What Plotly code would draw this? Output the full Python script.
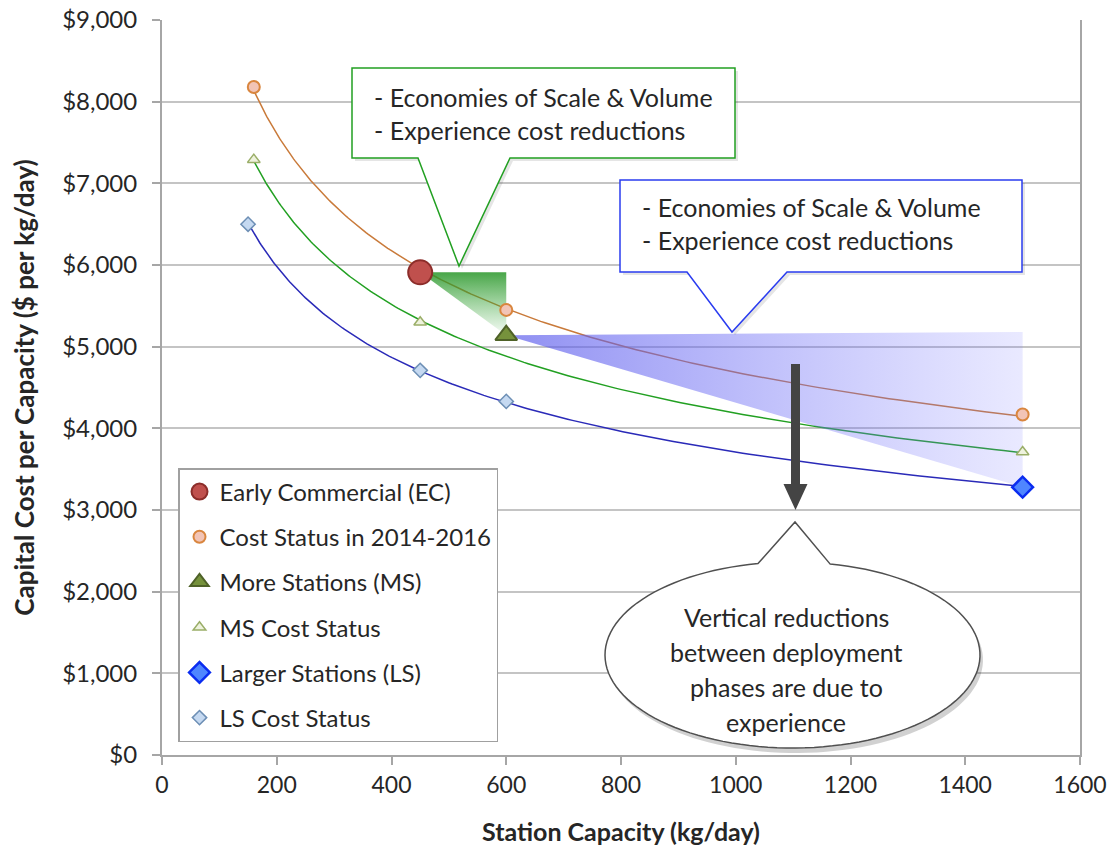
import numpy as np
import plotly.graph_objects as go

# ---------------- data ----------------
cost_status_x = [160, 600, 1500]
cost_status_y = [8180, 5450, 4170]
ec_x = [450]
ec_y = [5910]
ms_cost_x = [160, 450, 1500]
ms_cost_y = [7290, 5300, 3710]
ms_x = [600]
ms_y = [5140]
ls_cost_x = [150, 450, 600]
ls_cost_y = [6500, 4710, 4330]
ls_x = [1500]
ls_y = [3280]

x_ticks = list(range(0, 1601, 200))
y_ticks = list(range(0, 9001, 1000))

legend_names = ["Early Commercial (EC)", "Cost Status in 2014-2016", "More Stations (MS)",
                "MS Cost Status", "Larger Stations (LS)", "LS Cost Status"]

callout_lines = ["- Economies of Scale & Volume", "- Experience cost reductions"]
bubble_lines = ["Vertical reductions", "between deployment", "phases are due to", "experience"]

X_MAX, Y_MAX = 1600, 9000

# ---------------- helpers ----------------
FONT = "Lato"
TXT = "#262626"

# plot area in pixels (for placing decorative callouts)
L, R, T, B = 162, 1080, 20, 755


def dx(px):
    return (px - L) / (R - L) * X_MAX


def dy(py):
    return (B - py) / (B - T) * Y_MAX


def path(points, ox=0, oy=0):
    s = ""
    for i, (px, py) in enumerate(points):
        s += ("M" if i == 0 else "L") + f"{dx(px + ox):.3f},{dy(py + oy):.3f} "
    return s + "Z"


def power_trend(xs, ys):
    b, loga = np.polyfit(np.log(xs), np.log(ys), 1)
    xx = np.geomspace(min(xs), max(xs), 200)
    return xx, np.exp(loga) * xx ** b


fig = go.Figure()

# trend lines (power fits of the points)
tx, ty = power_trend(cost_status_x + ec_x, cost_status_y + ec_y)
fig.add_trace(go.Scatter(x=tx, y=ty, mode="lines", line=dict(color="#c97a3a", width=1.5),
                         showlegend=False, hoverinfo="skip"))
tx, ty = power_trend(ms_cost_x, ms_cost_y)
fig.add_trace(go.Scatter(x=tx, y=ty, mode="lines", line=dict(color="#22a022", width=1.5),
                         showlegend=False, hoverinfo="skip"))
tx, ty = power_trend(ls_cost_x + ls_x, ls_cost_y + ls_y)
fig.add_trace(go.Scatter(x=tx, y=ty, mode="lines", line=dict(color="#2a2ab8", width=1.5),
                         showlegend=False, hoverinfo="skip"))

# shaded wedges
fig.add_trace(go.Scatter(
    x=[ec_x[0], ms_x[0], ms_x[0], ec_x[0]], y=[ec_y[0], ec_y[0], ms_y[0], ec_y[0]],
    mode="lines", line=dict(width=0), fill="toself",
    fillgradient=dict(type="vertical",
                      colorscale=[[0, "rgba(60,170,60,0.04)"], [1, "rgba(40,150,40,0.85)"]]),
    showlegend=False, hoverinfo="skip"))
fig.add_trace(go.Scatter(
    x=[ms_x[0], ls_x[0], ls_x[0], ms_x[0]], y=[ms_y[0], ms_y[0] + 40, ls_y[0], ms_y[0]],
    mode="lines", line=dict(width=0), fill="toself",
    fillgradient=dict(type="horizontal",
                      colorscale=[[0, "rgba(90,90,235,0.68)"], [1, "rgba(120,120,255,0.16)"]]),
    showlegend=False, hoverinfo="skip"))

# markers
fig.add_trace(go.Scatter(x=ec_x, y=ec_y, mode="markers", name=legend_names[0], legendgroup="g1",
                         marker=dict(symbol="circle", size=24, color="#c0504d",
                                     line=dict(color="#8c2d2a", width=2))))
fig.add_trace(go.Scatter(x=cost_status_x, y=cost_status_y, mode="markers", name=legend_names[1],
                         legendgroup="g2",
                         marker=dict(symbol="circle", size=12, color="#f2c4b6",
                                     line=dict(color="#d9863f", width=2))))
fig.add_trace(go.Scatter(x=ms_x, y=ms_y, mode="markers", name=legend_names[2], legendgroup="g3",
                         marker=dict(symbol="triangle-up", size=19, color="#76923c",
                                     line=dict(color="#4f6228", width=2))))
fig.add_trace(go.Scatter(x=ms_cost_x, y=ms_cost_y, mode="markers", name=legend_names[3],
                         legendgroup="g4",
                         marker=dict(symbol="triangle-up", size=11, color="#eef2dd",
                                     line=dict(color="#9aae68", width=1.5))))
fig.add_trace(go.Scatter(x=ls_x, y=ls_y, mode="markers", name=legend_names[4], legendgroup="g5",
                         marker=dict(symbol="diamond", size=16, color="#4f86ff",
                                     line=dict(color="#0a2cf0", width=2.5))))
fig.add_trace(go.Scatter(x=ls_cost_x, y=ls_cost_y, mode="markers", name=legend_names[5],
                         legendgroup="g6",
                         marker=dict(symbol="diamond", size=11, color="#c5d9f1",
                                     line=dict(color="#6d8fb5", width=1.5))))

shapes = []
# green callout
green_pts = [(352, 68), (735, 68), (735, 158), (510, 158), (459, 266), (418, 158), (352, 158)]
shapes.append(dict(type="path", path=path(green_pts, 3, 3), xref="x", yref="y", layer="above",
                   fillcolor="rgba(0,0,0,0.10)", line=dict(width=0)))
shapes.append(dict(type="path", path=path(green_pts), xref="x", yref="y", layer="above",
                   fillcolor="white", line=dict(color="#22a022", width=1.5)))
# blue callout
blue_pts = [(620, 180), (1022, 180), (1022, 272), (787, 272), (732, 332), (687, 272), (620, 272)]
shapes.append(dict(type="path", path=path(blue_pts, 3, 3), xref="x", yref="y", layer="above",
                   fillcolor="rgba(0,0,0,0.10)", line=dict(width=0)))
shapes.append(dict(type="path", path=path(blue_pts), xref="x", yref="y", layer="above",
                   fillcolor="white", line=dict(color="#2a3cf0", width=1.5)))
# ellipse bubble
cx, cy, rx, ry = 792.5, 655, 187.5, 93
t_r = -np.arccos((830 - cx) / rx)
t_l = -np.arccos((758 - cx) / rx) + 2 * np.pi
ts = np.linspace(t_r, t_l, 120)
bubble_pts = [(cx + rx * np.cos(t), cy + ry * np.sin(t)) for t in ts] + [(795, 522)]
shapes.append(dict(type="path", path=path(bubble_pts, 3, 5), xref="x", yref="y", layer="above",
                   fillcolor="rgba(0,0,0,0.18)", line=dict(width=0)))
shapes.append(dict(type="path", path=path(bubble_pts), xref="x", yref="y", layer="above",
                   fillcolor="white", line=dict(color="#505050", width=1.5)))
# vertical arrow
arrow_pts = [(791, 364), (800, 364), (800, 484), (807.5, 484), (795.5, 510), (783.5, 484), (791, 484)]
shapes.append(dict(type="path", path=path(arrow_pts), xref="x", yref="y", layer="above",
                   fillcolor="#444444", line=dict(width=0)))

annotations = []
for i, txt in enumerate(callout_lines):
    annotations.append(dict(x=dx(372), y=dy(97 + 33 * i), xref="x", yref="y", text=txt,
                            showarrow=False, xanchor="left", yanchor="middle",
                            font=dict(family=FONT, size=25, color=TXT)))
    annotations.append(dict(x=dx(640), y=dy(207 + 33 * i), xref="x", yref="y", text=txt,
                            showarrow=False, xanchor="left", yanchor="middle",
                            font=dict(family=FONT, size=25, color=TXT)))
for i, txt in enumerate(bubble_lines):
    annotations.append(dict(x=dx(786), y=dy(617 + 35 * i), xref="x", yref="y", text=txt,
                            showarrow=False, xanchor="center", yanchor="middle",
                            font=dict(family=FONT, size=25, color=TXT)))

fig.update_layout(
    width=1109, height=850,
    margin=dict(l=L, r=1109 - R, t=T, b=850 - B, autoexpand=False),
    paper_bgcolor="white", plot_bgcolor="white",
    font=dict(family=FONT, color=TXT),
    shapes=shapes, annotations=annotations,
    showlegend=True,
    legend=dict(x=(178 - L) / (R - L), y=(B - 742) / (B - T), xanchor="left", yanchor="bottom",
                bgcolor="white", bordercolor="#a0a0a0", borderwidth=1.5,
                font=dict(family=FONT, size=24, color=TXT),
                traceorder="grouped", tracegroupgap=11, itemsizing="trace"),
    xaxis=dict(range=[0, X_MAX], tickvals=x_ticks, ticktext=[str(v) for v in x_ticks],
               automargin=False,
               showgrid=False, zeroline=False, showline=True, linecolor="#a6a6a6", linewidth=2,
               ticks="outside", ticklen=8, tickcolor="#a6a6a6", tickwidth=1.5,
               tickfont=dict(family=FONT, size=23, color=TXT),
               title=dict(text="<b>Station Capacity (kg/day)</b>", standoff=27,
                          font=dict(family=FONT, size=25, color=TXT))),
    yaxis=dict(range=[0, Y_MAX], tickvals=y_ticks, ticktext=[f"${v:,}" for v in y_ticks],
               automargin=False,
               showgrid=True, gridcolor="#c4c4c4", gridwidth=2, zeroline=False,
               showline=True, mirror=True, linecolor="#a6a6a6", linewidth=2,
               ticks="outside", ticklen=8, tickcolor="#a6a6a6", tickwidth=1.5,
               ticklabelstandoff=10,
               tickfont=dict(family=FONT, size=24, color=TXT),
               title=dict(text="<b>Capital Cost per Capacity ($ per kg/day)</b>", standoff=20,
                          font=dict(family=FONT, size=26, color=TXT))),
)

fig.write_html("out.html")
